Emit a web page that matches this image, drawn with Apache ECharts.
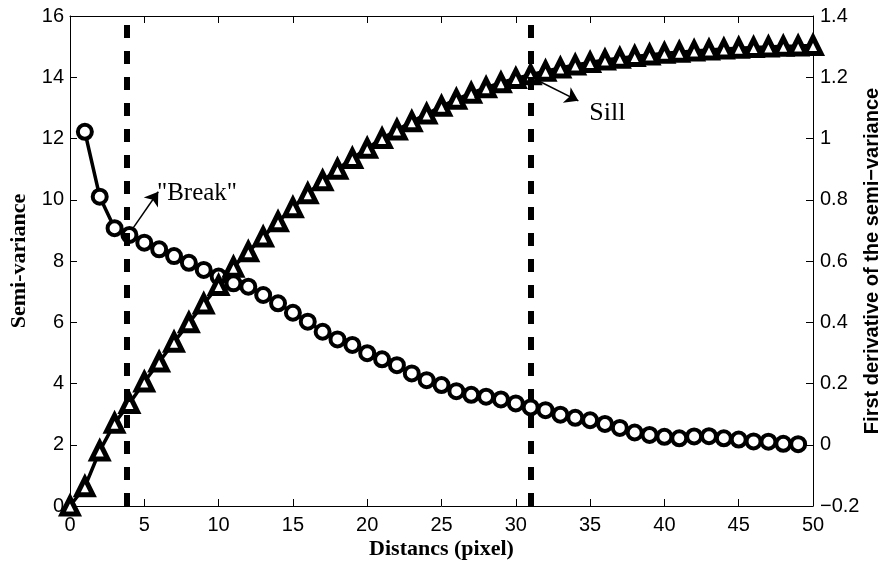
<!DOCTYPE html>
<html><head><meta charset="utf-8">
<script src="https://cdn.jsdelivr.net/npm/echarts@6/dist/echarts.min.js"></script>
<style>html,body{margin:0;padding:0;background:#fff}#c{width:881px;height:563px}</style>
</head><body><div id="c"></div>
<script>
// Semi-variance (left axis, triangles)
const semiDist = [0,1,2,3,4,5,6,7,8,9,10,11,12,13,14,15,16,17,18,19,20,21,22,23,24,25,26,27,28,29,30,31,32,33,34,35,36,37,38,39,40,41,42,43,44,45,46,47,48,49,50];
const semiVar = [0,0.63,1.8,2.7,3.35,4.05,4.7,5.35,5.98,6.6,7.2,7.8,8.3,8.78,9.28,9.74,10.2,10.62,11.0,11.35,11.68,12.0,12.28,12.55,12.8,13.05,13.28,13.48,13.66,13.82,13.96,14.08,14.2,14.3,14.4,14.48,14.56,14.62,14.68,14.73,14.78,14.82,14.86,14.89,14.92,14.95,14.97,14.99,15.01,15.02,15.04];
// First derivative (right axis, circles)
const derivDist = [1,2,3,4,5,6,7,8,9,10,11,12,13,14,15,16,17,18,19,20,21,22,23,24,25,26,27,28,29,30,31,32,33,34,35,36,37,38,39,40,41,42,43,44,45,46,47,48,49];
const derivVal = [1.022,0.81,0.707,0.685,0.66,0.638,0.616,0.594,0.571,0.549,0.527,0.516,0.489,0.462,0.431,0.402,0.369,0.344,0.326,0.299,0.279,0.26,0.233,0.211,0.195,0.175,0.163,0.157,0.148,0.135,0.122,0.113,0.098,0.088,0.08,0.068,0.055,0.04,0.032,0.026,0.021,0.027,0.028,0.021,0.017,0.011,0.01,0.003,0.002];
// Vertical dashed markers
const markerX = [3.8, 31];
// Annotations (x, derivative-axis value)
const breakArrow = [[4.15,0.701],[5.94,0.826]];
const breakText = [5.85,0.822];
const sillArrow = [[31.41,1.191],[34.21,1.123]];
const sillText = [34.95,1.083];

const semiData = semiDist.map((d,i)=>[d, semiVar[i]]);
const derivData = derivDist.map((d,i)=>[d, derivVal[i]]);

const tickFont = {fontFamily:'Liberation Sans', fontSize:20, color:'#000'};
const axLine = {show:true, onZero:false, lineStyle:{color:'#000', width:1}};
const chart = echarts.init(document.getElementById('c'), null, {renderer:'canvas'});
chart.setOption({
  animation:false,
  backgroundColor:'#fff',
  grid:{left:70, right:68, top:16, bottom:57, containLabel:false, outerBoundsMode:'none'},
  xAxis:[{
    type:'value', min:0, max:50, interval:5, position:'bottom',
    name:'Distancs (pixel)', nameLocation:'middle', nameGap:32, nameMoveOverlap:false,
    nameTextStyle:{fontFamily:'Liberation Serif', fontWeight:'bold', fontSize:22, color:'#000'},
    axisLine:axLine, axisTick:{show:true, inside:true, length:7, lineStyle:{color:'#000'}},
    axisLabel:Object.assign({margin:9}, tickFont), splitLine:{show:false}
  },{
    type:'value', min:0, max:50, interval:5, position:'top',
    axisLine:axLine, axisTick:{show:true, inside:true, length:7, lineStyle:{color:'#000'}},
    axisLabel:{show:false}, splitLine:{show:false}
  }],
  yAxis:[{
    type:'value', min:0, max:16, interval:2, position:'left',
    name:'Semi-variance', nameLocation:'middle', nameGap:40, nameMoveOverlap:false,
    nameTextStyle:{fontFamily:'Liberation Serif', fontWeight:'bold', fontSize:22, color:'#000'},
    axisLine:axLine, axisTick:{show:true, inside:true, length:7, lineStyle:{color:'#000'}},
    axisLabel:Object.assign({margin:6}, tickFont), splitLine:{show:false}
  },{
    type:'value', min:-0.2, max:1.4, interval:0.2, position:'right',
    name:'First derivative of the semi\u2212variance', nameLocation:'middle', nameGap:49, nameMoveOverlap:false,
    nameTextStyle:{fontFamily:'Liberation Sans', fontWeight:'bold', fontSize:20, color:'#000'},
    axisLine:axLine, axisTick:{show:true, inside:true, length:7, lineStyle:{color:'#000'}},
    axisLabel:Object.assign({margin:7, formatter:v=>String(Math.round(v*10)/10).replace('-','\u2212')}, tickFont),
    splitLine:{show:false}
  }],
  series:[{
    type:'line', xAxisIndex:0, yAxisIndex:0, data:[], z:1, silent:true,
    markLine:{silent:true, symbol:['none','none'], label:{show:false},
      lineStyle:{color:'#000', width:6, type:[13,13]},
      data:markerX.map(x=>({xAxis:x}))}
  },{
    name:'derivative', type:'line', xAxisIndex:0, yAxisIndex:1, data:derivData, z:3,
    symbol:'circle', symbolSize:14, showAllSymbol:true,
    lineStyle:{color:'#000', width:3.5},
    itemStyle:{color:'#fff', borderColor:'#000', borderWidth:4},
    markLine:{silent:true, symbol:['none','arrow'], symbolSize:13, label:{show:false},
      lineStyle:{color:'#000', width:1.5, type:'solid'},
      data:[[{coord:breakArrow[0]},{coord:breakArrow[1]}],[{coord:sillArrow[0]},{coord:sillArrow[1]}]]},
    markPoint:{silent:true, symbol:'circle', symbolSize:0,
      label:{show:true, position:'right', distance:0, fontFamily:'Liberation Serif', fontSize:25, color:'#000'},
      data:[{coord:breakText, label:{formatter:'"Break"'}},{coord:sillText, label:{formatter:'Sill', fontSize:26}}]}
  },{
    name:'semi', type:'line', xAxisIndex:0, yAxisIndex:0, data:semiData, z:4,
    symbol:'triangle', symbolSize:16, showAllSymbol:true,
    lineStyle:{color:'#000', width:3.5},
    itemStyle:{color:'#fff', borderColor:'#000', borderWidth:5}
  }]
});
</script></body></html>
